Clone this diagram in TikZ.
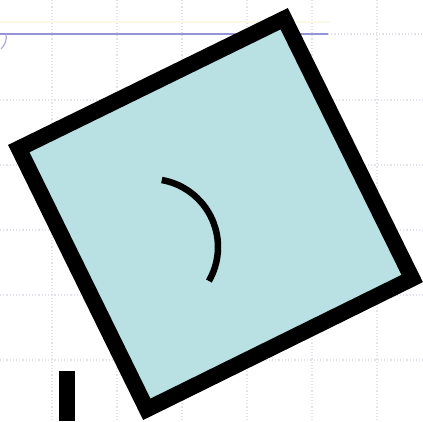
\documentclass[tikz,border=0pt]{standalone}
\definecolor{boxfill}{RGB}{185,224,227}
\definecolor{guideblue}{RGB}{150,150,215}
\definecolor{gridgray}{RGB}{226,226,234}
\definecolor{faintyellow}{RGB}{249,249,228}
\begin{document}
\begin{tikzpicture}[x=1pt,y=-1pt,
  gridline/.style={gridgray,line width=1.2pt,dotted},
  boxstyle/.style={draw=black,fill=boxfill,line width=16pt,line join=miter},
  arcstyle/.style={black,line width=6.5pt}]
\useasboundingbox (0,0) rectangle (423,421);
\clip (0,0) rectangle (423,421);
\fill[white] (0,0) rectangle (423,421);
% background grid
\foreach \gx in {52,117,182,247,312,377}
  \draw[gridline] (\gx,0) -- (\gx,421);
\foreach \gy in {100,165,230,295,360}
  \draw[gridline] (0,\gy) -- (423,\gy);
\draw[gridline] (328,34) -- (423,34);
\draw[faintyellow,line width=2pt] (0,22) -- (330,22);
% blue guide line
\draw[guideblue,line width=1.8pt] (328,34) -- (0,34);
\draw[guideblue!80,line width=1.2pt] (6,34) .. controls (7,40) and (5,45) .. (1,49);
% rotated square
\coordinate (T) at (284.2,18.7);
\coordinate (L) at (18.8,148.6);
\coordinate (B) at (146.8,409.3);
\coordinate (R) at (412.2,278.5);
\draw[boxstyle] (T) -- (L) -- (B) -- (R) -- cycle;
% arc
\coordinate (A) at (161.8,180);
\draw[arcstyle] (A) arc[start angle=-80,end angle=30,radius=68];
% black bar
\fill[black] (59,371) rectangle (75,421);
\end{tikzpicture}
\end{document}
